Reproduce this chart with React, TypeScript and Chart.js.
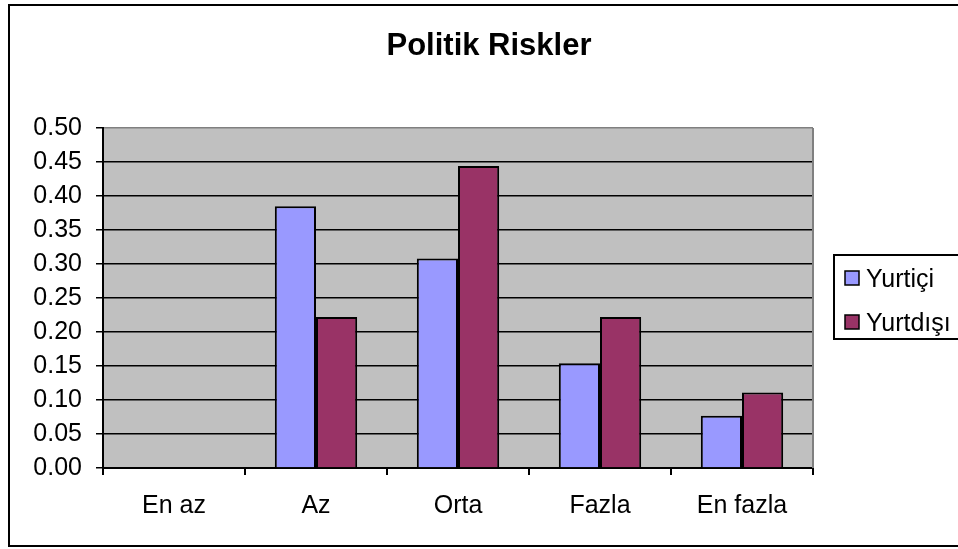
import React, { useEffect, useRef } from "react";
import { Chart, registerables } from "chart.js";

Chart.register(...registerables);

const TITLE = "Politik Riskler";
const categories = ["En az", "Az", "Orta", "Fazla", "En fazla"];
const seriesNames = ["Yurtiçi", "Yurtdışı"];
const yurtici = [0, 0.385, 0.308, 0.154, 0.077];
const yurtdisi = [0, 0.222, 0.444, 0.222, 0.111];
const seriesColors = ["#9999FF", "#993366"];
const yMin = 0;
const yMax = 0.5;
const yStep = 0.05;

const FONT = "'Liberation Sans', Arial, sans-serif";

const framePlugin = {
  id: "frame",
  beforeDraw(chart: any) {
    const { ctx, chartArea } = chart;
    ctx.save();
    ctx.fillStyle = "#ffffff";
    ctx.fillRect(0, 0, chart.width, chart.height);
    ctx.fillStyle = "#C0C0C0";
    ctx.fillRect(chartArea.left, chartArea.top, chartArea.right - chartArea.left, chartArea.bottom - chartArea.top);
    ctx.restore();
  },
  afterDraw(chart: any) {
    const { ctx, chartArea } = chart;
    ctx.save();
    // plot area right border
    ctx.strokeStyle = "#808080";
    ctx.lineWidth = 2;
    ctx.beginPath();
    ctx.moveTo(chartArea.right, chartArea.top);
    ctx.lineTo(chartArea.right, chartArea.bottom);
    ctx.stroke();
    // outer frame
    ctx.strokeStyle = "#000000";
    ctx.lineWidth = 2;
    ctx.strokeRect(9, 5, 980, 541);
    // title
    ctx.fillStyle = "#000000";
    ctx.font = "bold 31px " + FONT;
    ctx.textAlign = "center";
    ctx.textBaseline = "alphabetic";
    ctx.fillText(TITLE, 489, 55);
    // legend
    ctx.lineWidth = 2;
    ctx.strokeStyle = "#000000";
    ctx.fillStyle = "#ffffff";
    ctx.fillRect(834, 255, 140, 84);
    ctx.strokeRect(834, 255, 140, 84);
    ctx.font = "25px " + FONT;
    ctx.textAlign = "left";
    const ds = chart.data.datasets;
    ds.forEach((d: any, i: number) => {
      const cy = 278 + i * 44;
      ctx.fillStyle = d.backgroundColor;
      ctx.fillRect(845, cy - 7, 14, 14);
      ctx.lineWidth = 1.5;
      ctx.strokeRect(845, cy - 7, 14, 14);
      ctx.fillStyle = "#000000";
      ctx.fillText(d.label, 866, cy + 9);
    });
    ctx.restore();
  },
};

export default function App() {
  const ref = useRef<HTMLCanvasElement>(null);
  useEffect(() => {
    if (!ref.current) return;
    const chart = new Chart(ref.current, {
      type: "bar",
      data: {
        labels: categories,
        datasets: [
          {
            label: seriesNames[0],
            data: yurtici,
            backgroundColor: seriesColors[0],
            borderColor: "#000000",
            borderWidth: 2,
            categoryPercentage: 0.58,
            barPercentage: 1,
          },
          {
            label: seriesNames[1],
            data: yurtdisi,
            backgroundColor: seriesColors[1],
            borderColor: "#000000",
            borderWidth: 2,
            categoryPercentage: 0.58,
            barPercentage: 1,
          },
        ],
      },
      options: {
        responsive: false,
        animation: false,
        devicePixelRatio: 1,
        layout: { padding: { left: 0, top: 128, right: 145, bottom: 0 } },
        plugins: {
          legend: { display: false },
          title: { display: false },
          tooltip: { enabled: false },
        },
        scales: {
          x: {
            afterFit: (s: any) => {
              s.height = 81;
            },
            grid: {
              offset: true,
              drawOnChartArea: false,
              drawTicks: true,
              tickLength: 7,
              color: "#000000",
              lineWidth: 2,
            },
            border: { color: "#000000", width: 2 },
            ticks: {
              color: "#000000",
              font: { family: FONT, size: 25 },
              padding: 16,
              maxRotation: 0,
            },
          },
          y: {
            min: yMin,
            max: yMax,
            afterFit: (s: any) => {
              s.width = 103;
            },
            grid: {
              color: (c: any) => (c.tick && Math.abs(c.tick.value - yMax) < 1e-9 ? "#808080" : "#000000"),
              tickColor: "#000000",
              lineWidth: 1.5,
              tickLength: 7,
            },
            border: { color: "#000000", width: 2 },
            ticks: {
              stepSize: yStep,
              color: "#000000",
              font: { family: FONT, size: 25 },
              padding: 14,
              callback: (v: any) => Number(v).toFixed(2),
            },
          },
        },
      },
      plugins: [framePlugin],
    } as any);
    return () => chart.destroy();
  }, []);
  return (
    <div style={{ position: "absolute", left: 0, top: 0, width: 958, height: 549 }}>
      <canvas ref={ref} width={958} height={549} style={{ display: "block" }} />
    </div>
  );
}
